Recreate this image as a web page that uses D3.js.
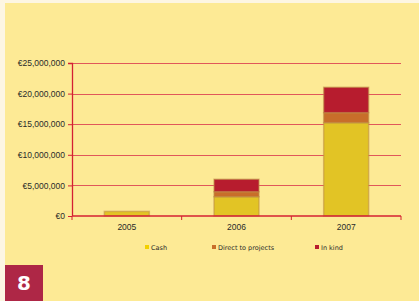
<!DOCTYPE html>
<html>
<head>
<meta charset="utf-8">
<script src="https://cdn.jsdelivr.net/npm/d3@7"></script>
<style>
  body { margin: 0; background: #fdf6e3; }
  svg { display: block; font-family: "DejaVu Sans", Verdana, sans-serif; }
</style>
</head>
<body>
<div id="chart"></div>
<script>
// data
const years = ["2005", "2006", "2007"];
const cash = [750000, 3150000, 15250000];
const direct = [0, 820000, 1630000];
const inKind = [0, 2030000, 4150000];
const seriesNames = ["Cash", "Direct to projects", "In kind"];
const yTicks = [0, 5000000, 10000000, 15000000, 20000000, 25000000];

const colors = ["#e2c425", "#c86e2a", "#b71c2e"];

const W = 419, H = 301;
const margin = { top: 63, right: 18, bottom: 85, left: 72 };
const width = W - margin.left - margin.right;
const height = H - margin.top - margin.bottom;

const svg = d3.select("#chart").append("svg")
  .attr("width", W)
  .attr("height", H);

// panel
svg.append("rect").attr("x", 5).attr("y", 3).attr("width", W - 5).attr("height", H - 3)
  .attr("fill", "#fdea95");

const g = svg.append("g").attr("transform", `translate(${margin.left},${margin.top})`);

const x = d3.scaleBand().domain(years).range([0, width]).padding(0);
const y = d3.scaleLinear().domain([0, 25000000]).range([height, 0]);

// gridlines
g.append("g")
  .selectAll("line")
  .data(yTicks.slice(1))
  .enter()
  .append("line")
  .attr("x1", 0).attr("x2", width)
  .attr("y1", (d) => Math.round(y(d)) + 0.5).attr("y2", (d) => Math.round(y(d)) + 0.5)
  .attr("stroke", "#e0585a")
  .attr("stroke-width", 1);

// stacked bars
const rows = years.map((yr, i) => ({ year: yr, Cash: cash[i], "Direct to projects": direct[i], "In kind": inKind[i] }));
const stacked = d3.stack().keys(seriesNames)(rows);
const barW = x.bandwidth() * 0.41;

stacked.forEach((layer, li) => {
  g.append("g")
    .selectAll("rect")
    .data(layer.filter((d) => d[1] > d[0]))
    .enter()
    .append("rect")
    .attr("x", (d) => x(d.data.year) + x.bandwidth() / 2 - barW / 2)
    .attr("y", (d) => y(d[1]))
    .attr("width", barW)
    .attr("height", (d) => y(d[0]) - y(d[1]))
    .attr("fill", colors[li])
    .attr("stroke", "rgba(190,140,70,0.55)")
    .attr("stroke-width", 1.5);
});

// y axis
const yAxis = g.append("g")
  .call(d3.axisLeft(y).tickValues(yTicks).tickSize(4).tickPadding(3)
    .tickFormat((d) => "€" + d3.format(",")(d)));
yAxis.select(".domain").attr("stroke", "#d42033").attr("stroke-width", 1.3).attr("d", `M-4,0.5H0.5V${height}`);
yAxis.selectAll(".tick line").attr("stroke", "#d42033");
yAxis.selectAll("text").attr("fill", "#2a2a2a").style("font-size", "8.5px");

// x axis
const xAxis = g.append("g")
  .attr("transform", `translate(0,${height})`)
  .call(d3.axisBottom(x).tickSize(0).tickPadding(8));
xAxis.select(".domain").attr("stroke", "#d42033").attr("stroke-width", 1.5).attr("d", `M0,0H${width}`);
xAxis.selectAll("text").attr("fill", "#2a2a2a").style("font-size", "8.5px");
g.append("g")
  .selectAll("line")
  .data([0, 1, 2, 3])
  .enter()
  .append("line")
  .attr("x1", (d) => d * x.step()).attr("x2", (d) => d * x.step())
  .attr("y1", height).attr("y2", height + 4)
  .attr("stroke", "#d42033");

// legend
const legendX = [145, 212, 315];
const legend = svg.append("g")
  .selectAll("g")
  .data(seriesNames)
  .enter()
  .append("g")
  .attr("transform", (d, i) => `translate(${legendX[i]},248)`);
legend.append("rect").attr("x", 0).attr("y", -3).attr("width", 4).attr("height", 4)
  .attr("fill", (d, i) => ["#f2d000", colors[1], colors[2]][i]);
legend.append("text").attr("x", 6).attr("y", 1.5).text((d) => d)
  .attr("fill", "#2a2a2a").style("font-size", "6.5px");

// page number box
svg.append("rect").attr("x", 5).attr("y", 265).attr("width", 38).attr("height", 36).attr("fill", "#ae2746");
svg.append("text").attr("x", 24).attr("y", 290).attr("text-anchor", "middle")
  .attr("fill", "#fff").style("font-size", "20px").style("font-weight", "bold").text("8");
</script>
</body>
</html>
